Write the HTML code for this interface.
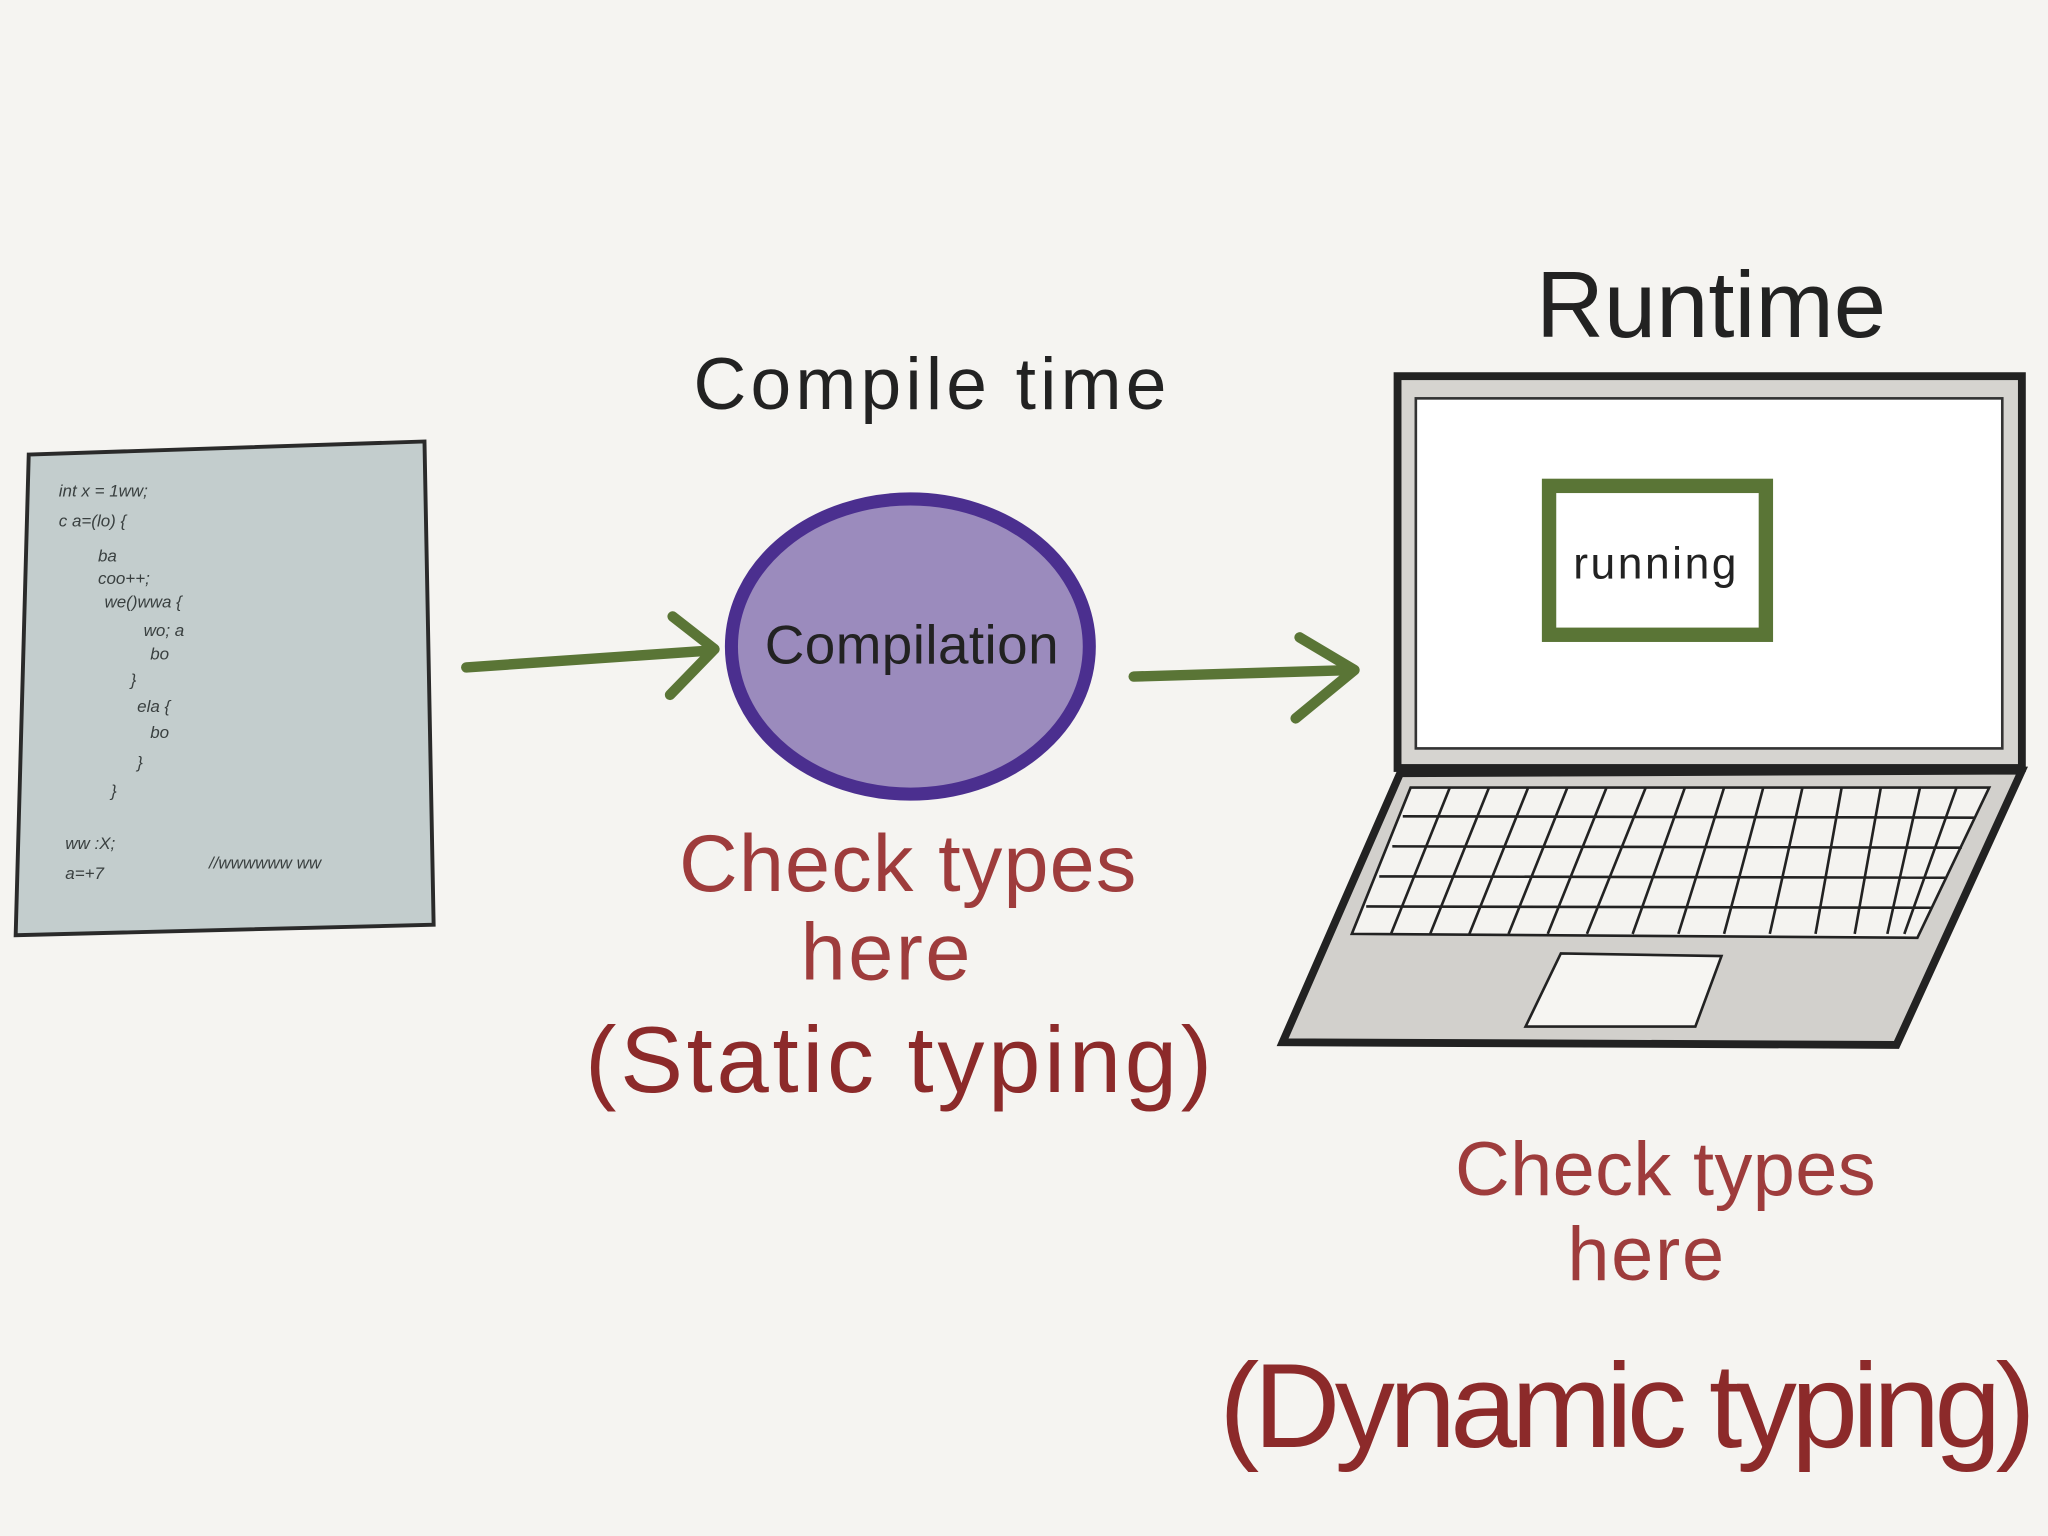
<!DOCTYPE html>
<html><head><meta charset="utf-8"><style>
html,body{margin:0;padding:0;background:#f5f4f1;}
svg{display:block;}
text{font-family:"Liberation Sans",sans-serif;}
</style></head><body>
<svg width="2048" height="1536" viewBox="0 0 1568 1176" xmlns="http://www.w3.org/2000/svg">
<rect width="1568" height="1176" fill="#f5f4f1"/>
<!-- paper -->
<polygon points="22,348 325,338 332,708 12,716" fill="#c3cdcd" stroke="#2a2a2a" stroke-width="3"/>
<g fill="#3a4040" font-size="13" font-style="italic">
<text x="45" y="380">int x = 1ww;</text>
<text x="45" y="403">c a=(lo) {</text>
<text x="75" y="430">ba</text>
<text x="75" y="447">coo++;</text>
<text x="80" y="465">we()wwa {</text>
<text x="110" y="487">wo; a</text>
<text x="115" y="505">bo</text>
<text x="100" y="525">}</text>
<text x="105" y="545">ela {</text>
<text x="115" y="565">bo</text>
<text x="105" y="588">}</text>
<text x="85" y="610">}</text>
<text x="50" y="650">ww :X;</text>
<text x="50" y="673">a=+7</text>
<text x="160" y="665">//wwwwww  ww</text>
</g>
<!-- arrows -->
<g stroke="#5a7536" stroke-width="8" fill="none" stroke-linecap="round" stroke-linejoin="round">
<path d="M357,511 L545,498"/>
<path d="M515,472 L547,497 L513,532"/>
<path d="M868,518 L1035,513"/>
<path d="M995,488 L1037,513 L992,550"/>
</g>
<!-- compilation -->
<ellipse cx="697" cy="495" rx="137" ry="113" fill="#9b8bbd" stroke="#4b2f8f" stroke-width="10"/>
<text x="698" y="508" font-size="42" text-anchor="middle" fill="#222" textLength="225">Compilation</text>
<text x="712" y="313" font-size="56" text-anchor="middle" fill="#222" textLength="362">Compile time</text>
<text x="1310" y="258" font-size="72" text-anchor="middle" fill="#222">Runtime</text>
<!-- laptop -->
<rect x="1070" y="288" width="478" height="300" fill="#d6d4d0" stroke="#222" stroke-width="6"/>
<rect x="1084" y="305" width="449" height="268" fill="#fff" stroke="#333" stroke-width="2"/>
<rect x="1186" y="372" width="166" height="114" fill="#fff" stroke="#5a7536" stroke-width="11"/>
<text x="1267" y="443" font-size="34" text-anchor="middle" fill="#222" textLength="125">running</text>
<polygon points="1072,592 1548,590 1452,800 982,798" fill="#d2d0cc" stroke="#222" stroke-width="6"/>
<polygon points="1080,603 1523,603 1468,718 1035,715" fill="#f4f3f0" stroke="#222" stroke-width="2"/>
<g stroke="#222" stroke-width="2">
<line x1="1074" y1="625" x2="1512" y2="626"/>
<line x1="1066" y1="648" x2="1502" y2="649"/>
<line x1="1056" y1="671" x2="1490" y2="672"/>
<line x1="1046" y1="694" x2="1479" y2="695"/>
<line x1="1110" y1="603" x2="1065" y2="715"/>
<line x1="1140" y1="603" x2="1095" y2="715"/>
<line x1="1170" y1="603" x2="1125" y2="715"/>
<line x1="1200" y1="603" x2="1155" y2="715"/>
<line x1="1230" y1="603" x2="1185" y2="715"/>
<line x1="1260" y1="603" x2="1215" y2="715"/>
<line x1="1290" y1="603" x2="1250" y2="715"/>
<line x1="1320" y1="603" x2="1285" y2="715"/>
<line x1="1350" y1="603" x2="1320" y2="715"/>
<line x1="1380" y1="603" x2="1355" y2="715"/>
<line x1="1410" y1="603" x2="1390" y2="715"/>
<line x1="1440" y1="603" x2="1420" y2="715"/>
<line x1="1470" y1="603" x2="1445" y2="715"/>
<line x1="1498" y1="603" x2="1458" y2="715"/>
</g>
<polygon points="1195,730 1318,732 1298,786 1168,786" fill="#f6f5f2" stroke="#222" stroke-width="2"/>
<!-- red texts -->
<g fill="#9e3c3c" text-anchor="middle">
<text x="695" y="682" font-size="62" textLength="350">Check types</text>
<text x="678" y="750" font-size="62" textLength="130">here</text>
<text x="688" y="836" font-size="72" fill="#8c2a2a" textLength="480">(Static typing)</text>
<text x="1275" y="915" font-size="58" textLength="322">Check types</text>
<text x="1260" y="980" font-size="58" textLength="120">here</text>
<text x="1246" y="1108" font-size="92" fill="#8c2a2a" textLength="625">(Dynamic typing)</text>
</g>
</svg>
</body></html>
